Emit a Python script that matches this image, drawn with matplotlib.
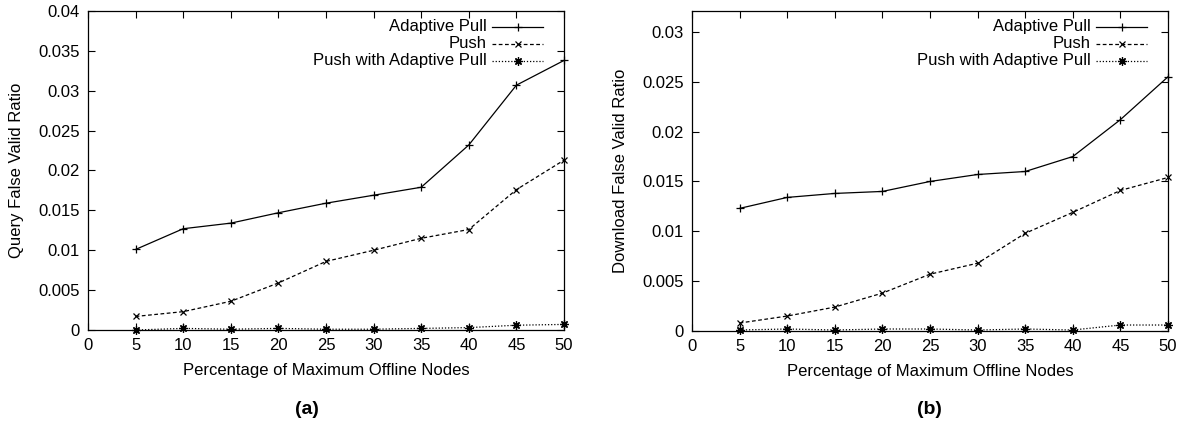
import matplotlib.pyplot as plt
from matplotlib.lines import Line2D

plt.rcParams['font.family'] = ['Liberation Sans', 'DejaVu Sans']
SIZE = 12
plt.rc('axes', labelsize=SIZE)
plt.rc('xtick', labelsize=SIZE)
plt.rc('ytick', labelsize=SIZE)

offline = [5, 10, 15, 20, 25, 30, 35, 40, 45, 50]

# (a) query false valid ratio
query_pull = [0.0101, 0.0127, 0.0134, 0.0147, 0.0159, 0.0169, 0.0179, 0.0232, 0.0307, 0.0338]
query_push = [0.0017, 0.0023, 0.0036, 0.0059, 0.0086, 0.0100, 0.0115, 0.0126, 0.0176, 0.0213]
query_both = [0.0000, 0.0002, 0.0001, 0.0002, 0.0001, 0.0001, 0.0002, 0.0003, 0.0006, 0.0007]

# (b) download false valid ratio
down_pull = [0.0123, 0.0134, 0.0138, 0.0140, 0.0150, 0.0157, 0.0160, 0.0175, 0.0212, 0.0255]
down_push = [0.0008, 0.0015, 0.0024, 0.0038, 0.0057, 0.0068, 0.0098, 0.0119, 0.0141, 0.0154]
down_both = [0.0001, 0.0002, 0.0001, 0.0002, 0.0002, 0.0001, 0.0002, 0.0001, 0.0006, 0.0006]

labels = ["Adaptive Pull", "Push", "Push with Adaptive Pull"]
styles = [dict(linestyle='-', marker='+', markersize=6),
          dict(linestyle=(0, (3, 2)), marker='x', markersize=5),
          dict(linestyle=(0, (1, 1.5)), marker=(8, 2, 0), markersize=6)]

panels = [
    ("Query False Valid Ratio", [query_pull, query_push, query_both],
     0.04, [0, 0.005, 0.01, 0.015, 0.02, 0.025, 0.03, 0.035, 0.04], "(a)"),
    ("Download False Valid Ratio", [down_pull, down_push, down_both],
     0.0321, [0, 0.005, 0.01, 0.015, 0.02, 0.025, 0.03], "(b)"),
]
ytick_text = {0: "0", 0.005: "0.005", 0.01: "0.01", 0.015: "0.015", 0.02: "0.02",
              0.025: "0.025", 0.03: "0.03", 0.035: "0.035", 0.04: "0.04"}

W, H = 1187, 426
fig = plt.figure(figsize=(W / 100, H / 100), dpi=100)
boxes = [(88, 11, 564, 330), (692, 11, 1168, 331)]
tag_x = [307, 929]

for (ylabel, series, ytop, yticks, tag), (x0, y0, x1, y1), tx_tag in zip(panels, boxes, tag_x):
    ax = fig.add_axes([x0 / W, 1 - y1 / H, (x1 - x0) / W, (y1 - y0) / H])
    for data, st in zip(series, styles):
        ax.plot(offline, data, color='black', linewidth=0.9, markeredgewidth=0.9,
                clip_on=False, **st)
    ax.set_xlim(0, 50)
    ax.set_ylim(0, ytop)
    ax.set_xticks(range(0, 51, 5))
    ax.set_yticks(yticks)
    ax.set_yticklabels([ytick_text[t] for t in yticks])
    ax.tick_params(direction='in', length=5, width=0.8, top=True, right=True, pad=6)
    for s in ax.spines.values():
        s.set_linewidth(0.9)
    ax.set_xlabel("Percentage of Maximum Offline Nodes", labelpad=7)
    ax.set_ylabel(ylabel, labelpad=10)
    fig.text(tx_tag / W, 1 - 410 / H, tag, ha='center', va='center',
             fontsize=14, fontweight='bold')

    # gnuplot-style key: right-aligned text, sample line to the right
    w = x1 - x0
    tx = (w - 77) / w
    lx0 = (w - 72) / w
    lx1 = (w - 21) / w
    for i, (lab, st) in enumerate(zip(labels, styles)):
        yy = 1 - (16 + 17 * i) / (y1 - y0)
        ax.text(tx, yy, lab, transform=ax.transAxes, ha='right', va='center', fontsize=SIZE)
        ax.add_line(Line2D([lx0, lx1], [yy, yy], transform=ax.transAxes, color='black',
                           linewidth=0.9, linestyle=st['linestyle']))
        ax.add_line(Line2D([(lx0 + lx1) / 2], [yy], transform=ax.transAxes, color='black',
                           marker=st['marker'], markersize=st['markersize'],
                           markeredgewidth=0.9, linestyle='none'))

fig.savefig("out.png", dpi=100)
